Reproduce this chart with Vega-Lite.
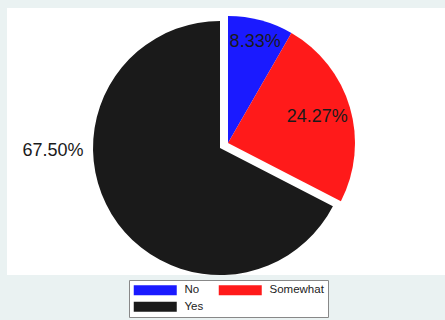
{
  "$schema": "https://vega.github.io/schema/vega-lite/v6.json",
  "width": 438,
  "height": 267,
  "autosize": "none",
  "padding": {"left": 7, "top": 8, "right": 0, "bottom": 45},
  "background": "#eaf2f2",
  "view": {"fill": "white", "stroke": null},
  "config": {
    "view": {"fill": "white", "stroke": null},
    "legend": {
      "orient": "none",
      "legendX": 122,
      "legendY": 272,
      "direction": "horizontal",
      "columns": 2,
      "symbolType": "M-1,-1H7.6V1H-1Z",
      "symbolSize": 100,
      "symbolStrokeWidth": 0,
      "symbolOpacity": 1,
      "labelFont": "Liberation Sans",
      "labelFontSize": 11.5,
      "labelColor": "#222222",
      "labelOffset": 40,
      "strokeColor": "#888888",
      "fillColor": "white",
      "padding": 4,
      "columnPadding": 14,
      "rowPadding": 4
    }
  },
  "data": {
    "values": [
      {"category": "No", "value": 8.33, "label": "8.33%"},
      {"category": "Somewhat", "value": 24.27, "label": "24.27%"},
      {"category": "Yes", "value": 67.5, "label": "67.50%"}
    ]
  },
  "layer": [
    {
      "mark": {"type": "arc", "outerRadius": 127, "xOffset": -6, "yOffset": 6.5},
      "encoding": {
        "theta": {"field": "value", "type": "quantitative", "stack": true, "scale": {"domain": [0, 100.1]}},
        "order": {"field": "category", "type": "ordinal", "sort": "ascending"},
        "color": {
          "field": "category", "type": "nominal",
          "scale": {"domain": ["No", "Somewhat", "Yes"], "range": ["#1a1aff", "#ff1a1a", "#1a1a1a"]},
          "legend": {"title": null}
        },
        "opacity": {"condition": {"test": "datum.category == 'Yes'", "value": 1}, "value": 0}
      }
    },
    {
      "mark": {"type": "arc", "outerRadius": 127, "xOffset": 2, "yOffset": 1.5},
      "encoding": {
        "theta": {"field": "value", "type": "quantitative", "stack": true, "scale": {"domain": [0, 100.1]}},
        "order": {"field": "category", "type": "ordinal", "sort": "ascending"},
        "color": {"field": "category", "type": "nominal"},
        "opacity": {"condition": {"test": "datum.category != 'Yes'", "value": 1}, "value": 0}
      }
    },
    {
      "mark": {"type": "text", "radius": 105, "xOffset": 2, "yOffset": 1.5, "font": "Liberation Sans", "fontSize": 18, "fill": "#1a1a1a", "align": "center", "baseline": "middle"},
      "encoding": {
        "theta": {"field": "value", "type": "quantitative", "stack": true},
        "order": {"field": "category", "type": "ordinal", "sort": "ascending"},
        "detail": {"field": "category", "type": "nominal"},
        "text": {"condition": {"test": "datum.category == 'No'", "field": "label"}, "value": ""}
      }
    },
    {
      "mark": {"type": "text", "radius": 93, "xOffset": 2, "yOffset": 1.5, "font": "Liberation Sans", "fontSize": 18, "fill": "#1a1a1a", "align": "center", "baseline": "middle"},
      "encoding": {
        "theta": {"field": "value", "type": "quantitative", "stack": true},
        "order": {"field": "category", "type": "ordinal", "sort": "ascending"},
        "detail": {"field": "category", "type": "nominal"},
        "text": {"condition": {"test": "datum.category == 'Somewhat'", "field": "label"}, "value": ""}
      }
    },
    {
      "mark": {"type": "text", "radius": 167, "thetaOffset": 0.528, "xOffset": -6, "yOffset": 6.5, "font": "Liberation Sans", "fontSize": 18, "fill": "#1a1a1a", "align": "center", "baseline": "middle"},
      "encoding": {
        "theta": {"field": "value", "type": "quantitative", "stack": true},
        "order": {"field": "category", "type": "ordinal", "sort": "ascending"},
        "detail": {"field": "category", "type": "nominal"},
        "text": {"condition": {"test": "datum.category == 'Yes'", "field": "label"}, "value": ""}
      }
    }
  ]
}
